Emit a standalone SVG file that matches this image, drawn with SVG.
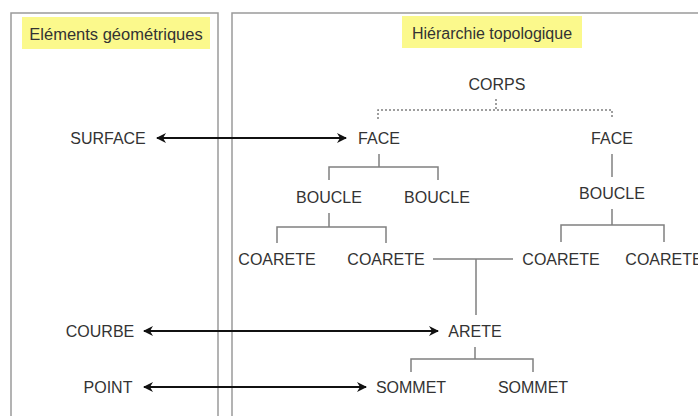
<svg xmlns="http://www.w3.org/2000/svg" width="698" height="416" viewBox="0 0 698 416">
<defs>
<style>
.panel{fill:#fff;stroke:#9a9a9a;stroke-width:1.5}
.hl{fill:#fbf98c}
text{font-family:"Liberation Sans",Arial,sans-serif;font-size:16px;fill:#333;text-anchor:middle}
.tree{fill:none;stroke:#808080;stroke-width:1.5}
.dot{fill:none;stroke:#808080;stroke-width:1.5;stroke-dasharray:2 2}
.arr{fill:none;stroke:#111;stroke-width:2;marker-start:url(#ah);marker-end:url(#ah)}
</style>
<marker id="ah" viewBox="0 0 10 10" refX="9" refY="5" markerWidth="5" markerHeight="5" orient="auto-start-reverse" markerUnits="strokeWidth">
<path d="M0,0 L10,5 L0,10 L3,5 z" fill="#111"/>
</marker>
</defs>
<g id="panel-geom">
<rect class="panel" x="11" y="13" width="207" height="420"/>
<rect class="hl" x="22" y="17" width="188" height="32"/>
<text x="116" y="40" style="font-size:16.5px">Eléments géométriques</text>
</g>
<g id="panel-topo">
<rect class="panel" x="232" y="13" width="480" height="420"/>
<rect class="hl" x="402" y="16" width="180" height="32"/>
<text x="492" y="39">Hiérarchie topologique</text>
</g>
<g id="connectors">
<path class="dot" d="M496,99 V110 M378,119 V110 H612 V119"/>
<path class="tree" d="M379,154 V167 M329,180 V167 H438 V180"/>
<path class="tree" d="M612,154 V177"/>
<path class="tree" d="M329,213 V227 M277,243 V227 H386 V243"/>
<path class="tree" d="M612,209 V225 M561,242 V225 H664 V242"/>
<path class="tree" d="M433,259 H513 M476,259 V315"/>
<path class="tree" d="M475,347 V359 M411,372 V359 H533 V372"/>
<path class="arr" d="M157,138 H346"/>
<path class="arr" d="M144,331 H438"/>
<path class="arr" d="M144,387 H366"/>
</g>
<g id="n-surface"><text x="108" y="144">SURFACE</text></g>
<g id="n-courbe"><text x="100" y="337">COURBE</text></g>
<g id="n-point"><text x="108" y="393">POINT</text></g>
<g id="n-corps"><text x="497" y="90">CORPS</text></g>
<g id="n-face1"><text x="379" y="144">FACE</text></g>
<g id="n-face2"><text x="612" y="144">FACE</text></g>
<g id="n-boucle1"><text x="329" y="203">BOUCLE</text></g>
<g id="n-boucle2"><text x="437" y="203">BOUCLE</text></g>
<g id="n-boucle3"><text x="612" y="199">BOUCLE</text></g>
<g id="n-coarete1"><text x="277" y="265">COARETE</text></g>
<g id="n-coarete2"><text x="386" y="265">COARETE</text></g>
<g id="n-coarete3"><text x="561" y="265">COARETE</text></g>
<g id="n-coarete4"><text x="664" y="265">COARETE</text></g>
<g id="n-arete"><text x="475" y="337">ARETE</text></g>
<g id="n-sommet1"><text x="411" y="393">SOMMET</text></g>
<g id="n-sommet2"><text x="533" y="393">SOMMET</text></g>
</svg>
